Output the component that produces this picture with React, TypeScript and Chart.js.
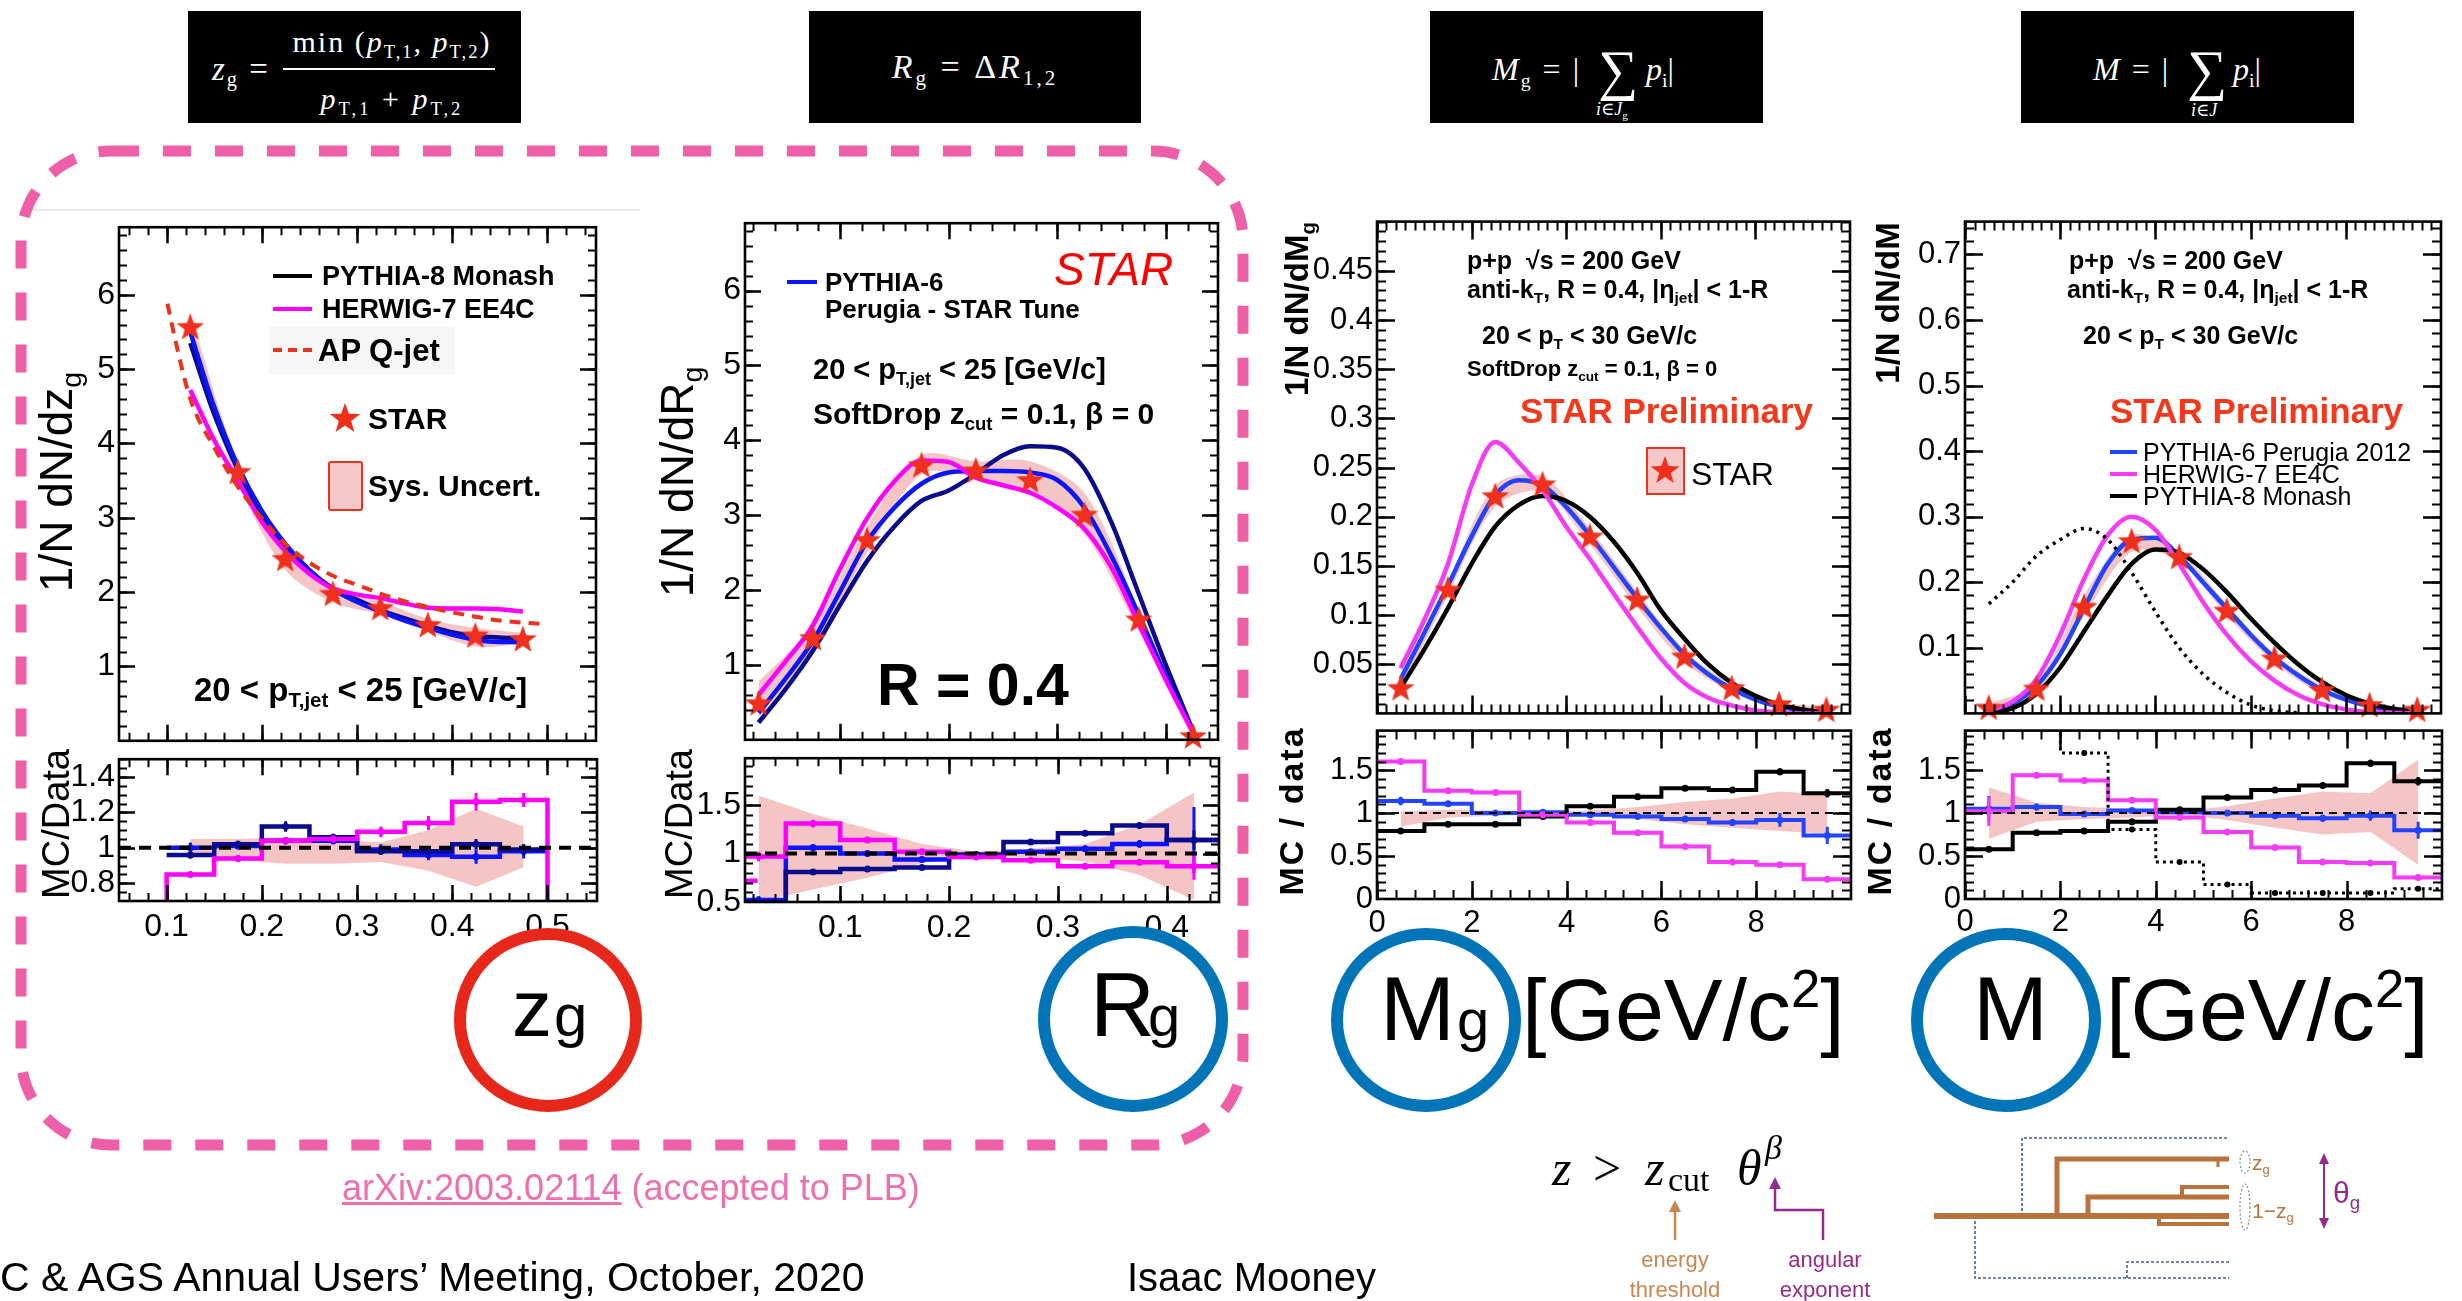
import React, { useEffect, useRef } from "react";
import { Chart, registerables } from "chart.js";

Chart.register(...registerables);

/* ===================== DATA ===================== */

/* ---- Panel 1 : z_g ---- */
const zgXTicks = [0.1, 0.2, 0.3, 0.4, 0.5];
const zgTopYTicks = [1, 2, 3, 4, 5, 6];
const zgRatioYTicks = [0.8, 1, 1.2, 1.4];
const zgCenters = [0.125, 0.175, 0.225, 0.275, 0.325, 0.375, 0.425, 0.475];
const zgEdges = [0.1, 0.15, 0.2, 0.25, 0.3, 0.35, 0.4, 0.45, 0.5];
const zgStar = [5.57, 3.62, 2.45, 1.98, 1.79, 1.56, 1.42, 1.37];
const zgSysHi = [5.75, 3.76, 2.62, 2.1, 1.88, 1.64, 1.52, 1.45];
const zgSysLo = [5.38, 3.5, 2.3, 1.86, 1.7, 1.47, 1.27, 1.3];
const zgCurveX = [0.125, 0.15, 0.175, 0.2, 0.225, 0.25, 0.275, 0.3, 0.325, 0.35, 0.375, 0.4, 0.425, 0.45, 0.475];
const zgPythia8 = [5.35, 4.4, 3.65, 3.05, 2.62, 2.3, 2.05, 1.9, 1.76, 1.65, 1.55, 1.46, 1.41, 1.39, 1.38];
const zgPythia6 = [5.5, 4.5, 3.7, 3.1, 2.65, 2.3, 2.04, 1.87, 1.74, 1.62, 1.52, 1.43, 1.36, 1.33, 1.33];
const zgHerwig = [4.72, 4.05, 3.5, 2.95, 2.55, 2.25, 2.05, 1.97, 1.92, 1.85, 1.79, 1.78, 1.78, 1.77, 1.74];
const zgApX = [0.101, 0.11, 0.125, 0.15, 0.175, 0.2, 0.225, 0.25, 0.275, 0.3, 0.325, 0.35, 0.375, 0.4, 0.425, 0.45, 0.497];
const zgAp = [5.88, 5.35, 4.6, 3.95, 3.42, 3.0, 2.65, 2.4, 2.22, 2.1, 1.98, 1.88, 1.8, 1.73, 1.67, 1.62, 1.57];
const zgRatioHerwig = [0.85, 0.94, 1.04, 1.05, 1.09, 1.14, 1.26, 1.27];
const zgRatioHerwigErr = [0.01, 0.02, 0.02, 0.02, 0.03, 0.04, 0.05, 0.04];
const zgRatioPythia8 = [0.96, 1.02, 1.12, 1.06, 0.98, 0.98, 1.02, 0.99];
const zgRatioPythia8Err = [0.02, 0.02, 0.03, 0.02, 0.02, 0.03, 0.03, 0.03];
const zgRatioPythia6 = [1.0, 1.01, 1.04, 1.04, 0.99, 0.96, 0.95, 0.98];
const zgRatioPythia6Err = [0.03, 0.02, 0.02, 0.02, 0.03, 0.03, 0.04, 0.04];
const zgRatioSysHi = [1.05, 1.05, 1.06, 1.05, 1.03, 1.1, 1.22, 1.12];
const zgRatioSysLo = [0.97, 0.93, 0.91, 0.91, 0.92, 0.87, 0.78, 0.89];

/* ---- Panel 2 : R_g ---- */
const rgXTicks = [0.1, 0.2, 0.3, 0.4];
const rgTopYTicks = [1, 2, 3, 4, 5, 6];
const rgRatioYTicks = [0.5, 1, 1.5];
const rgCenters = [0.025, 0.075, 0.125, 0.175, 0.225, 0.275, 0.325, 0.375, 0.425];
const rgEdges = [0.0125, 0.05, 0.1, 0.15, 0.2, 0.25, 0.3, 0.35, 0.4, 0.45];
const rgStar = [0.49, 1.36, 2.67, 3.67, 3.6, 3.47, 3.01, 1.61, 0.05];
const rgSysHi = [0.78, 1.52, 2.85, 3.8, 3.72, 3.72, 3.3, 1.76, 0.12];
const rgSysLo = [0.3, 1.2, 2.5, 3.55, 3.5, 3.3, 2.75, 1.45, 0.0];
const rgCurveX = [0.025, 0.05, 0.075, 0.1, 0.125, 0.15, 0.175, 0.2, 0.225, 0.25, 0.275, 0.3, 0.325, 0.35, 0.375, 0.4, 0.425];
const rgPythia6 = [0.36, 0.82, 1.32, 1.98, 2.65, 3.1, 3.42, 3.57, 3.59, 3.59, 3.57, 3.47, 3.1, 2.45, 1.67, 0.85, 0.1];
const rgHerwig = [0.6, 1.05, 1.53, 2.28, 2.96, 3.45, 3.73, 3.71, 3.5, 3.4, 3.3, 3.1, 2.82, 2.3, 1.55, 0.8, 0.1];
const rgPythia8 = [0.23, 0.68, 1.19, 1.8, 2.39, 2.85, 3.19, 3.33, 3.55, 3.8, 3.92, 3.9, 3.62, 2.9, 1.95, 1.0, 0.12];
const rgRatioHerwig = [0.97, 1.31, 1.14, 1.02, 0.965, 0.93, 0.87, 0.91, 0.87];
const rgRatioHerwigErr = [0.05, 0.04, 0.03, 0.02, 0.02, 0.02, 0.02, 0.03, 0.14];
const rgRatioPythia6 = [0.52, 1.06, 1.0, 0.94, 0.97, 1.02, 1.05, 1.1, 1.14];
const rgRatioPythia6Err = [0.04, 0.04, 0.03, 0.03, 0.02, 0.02, 0.03, 0.04, 0.34];
const rgRatioPythia8 = [0.5, 0.81, 0.84, 0.855, 0.99, 1.12, 1.21, 1.29, 1.14];
const rgRatioPythia8Err = [0.01, 0.02, 0.02, 0.02, 0.02, 0.02, 0.02, 0.03, 0.1];
const rgRatioHerwigStubX = [0.0125, 0.024];
const rgRatioHerwigStub = [0.72, 0.72];
const rgRatioSysHi = [1.6, 1.41, 1.26, 1.1, 1.02, 1.05, 1.1, 1.3, 1.63];
const rgRatioSysLo = [0.5, 0.63, 0.75, 0.9, 0.98, 0.96, 0.92, 0.78, 0.52];

/* ---- Panels 3 & 4 : masses ---- */
const massXTicks = [0, 2, 4, 6, 8];
const massRatioYTicks = [0, 0.5, 1, 1.5];
const massCenters = [0.5, 1.5, 2.5, 3.5, 4.5, 5.5, 6.5, 7.5, 8.5, 9.5];
const massEdges = [0, 1, 2, 3, 4, 5, 6, 7, 8, 9, 10];
const massCurveX = [0.5, 1, 1.5, 2, 2.5, 3, 3.5, 4, 4.5, 5, 5.5, 6, 6.5, 7, 7.5, 8, 8.5, 9, 9.5];

/* Panel 3 : M_g */
const mgTopYTicks = [0.05, 0.1, 0.15, 0.2, 0.25, 0.3, 0.35, 0.4, 0.45];
const mgStar = [0.026, 0.126, 0.221, 0.233, 0.18, 0.116, 0.058, 0.026, 0.0095, 0.004];
const mgSysHi = [0.03, 0.133, 0.232, 0.241, 0.188, 0.124, 0.064, 0.03, 0.012, 0.006];
const mgSysLo = [0.022, 0.12, 0.21, 0.225, 0.172, 0.108, 0.052, 0.022, 0.007, 0.002];
const mgPythia6 = [0.035, 0.082, 0.13, 0.18, 0.222, 0.237, 0.232, 0.21, 0.181, 0.149, 0.117, 0.087, 0.06, 0.04, 0.025, 0.014, 0.007, 0.003, 0.001];
const mgHerwig = [0.046, 0.095, 0.152, 0.232, 0.276, 0.255, 0.227, 0.19, 0.157, 0.122, 0.088, 0.056, 0.031, 0.016, 0.008, 0.003, 0.001, 0.0, 0.0];
const mgPythia8 = [0.026, 0.065, 0.107, 0.152, 0.19, 0.212, 0.221, 0.216, 0.2, 0.175, 0.143, 0.105, 0.076, 0.05, 0.031, 0.018, 0.009, 0.004, 0.001];
const mgRatioHerwig = [1.6, 1.26, 1.24, 0.98, 0.89, 0.77, 0.61, 0.43, 0.4, 0.23];
const mgRatioHerwigErr = [0.03, 0.02, 0.02, 0.01, 0.01, 0.01, 0.01, 0.01, 0.02, 0.01];
const mgRatioPythia6 = [1.14, 1.11, 1.0, 1.01, 0.98, 0.96, 0.93, 0.89, 0.92, 0.74];
const mgRatioPythia6Err = [0.05, 0.03, 0.02, 0.02, 0.02, 0.02, 0.03, 0.04, 0.08, 0.1];
const mgRatioPythia8 = [0.79, 0.87, 0.87, 0.96, 1.08, 1.19, 1.29, 1.27, 1.48, 1.23];
const mgRatioPythia8Err = [0.02, 0.01, 0.01, 0.01, 0.01, 0.01, 0.02, 0.03, 0.04, 0.05];
const mgRatioSysHi = [1.02, 1.04, 1.03, 1.01, 1.03, 1.07, 1.13, 1.17, 1.25, 1.22];
const mgRatioSysLo = [0.84, 0.95, 0.97, 0.99, 0.97, 0.93, 0.87, 0.83, 0.79, 0.76];

/* Panel 4 : M */
const mTopYTicks = [0.1, 0.2, 0.3, 0.4, 0.5, 0.6, 0.7];
const mStar = [0.009, 0.038, 0.163, 0.263, 0.239, 0.157, 0.084, 0.036, 0.013, 0.006];
const mSysHi = [0.015, 0.045, 0.18, 0.272, 0.246, 0.166, 0.091, 0.042, 0.016, 0.008];
const mSysLo = [0.004, 0.032, 0.148, 0.246, 0.232, 0.149, 0.077, 0.03, 0.01, 0.004];
const mPythia6 = [0.003, 0.015, 0.042, 0.09, 0.16, 0.228, 0.265, 0.268, 0.24, 0.2, 0.16, 0.12, 0.085, 0.058, 0.036, 0.021, 0.011, 0.005, 0.002];
const mHerwig = [0.004, 0.018, 0.052, 0.12, 0.205, 0.272, 0.3, 0.28, 0.228, 0.17, 0.12, 0.08, 0.05, 0.028, 0.014, 0.006, 0.002, 0.001, 0.0];
const mPythia8 = [0.0, 0.008, 0.03, 0.07, 0.125, 0.18, 0.228, 0.25, 0.245, 0.22, 0.185, 0.145, 0.108, 0.075, 0.048, 0.028, 0.015, 0.007, 0.003];
const mDottedX = [0.5, 1, 1.5, 2, 2.5, 3, 3.5, 4, 4.5, 5, 5.5, 6, 6.5, 7];
const mDotted = [0.167, 0.2, 0.24, 0.265, 0.282, 0.265, 0.215, 0.155, 0.1, 0.06, 0.032, 0.013, 0.004, 0.001];
const mRatioHerwig = [1.02, 1.44, 1.38, 1.15, 0.95, 0.78, 0.6, 0.43, 0.42, 0.25];
const mRatioHerwigErr = [0.17, 0.03, 0.02, 0.01, 0.01, 0.01, 0.01, 0.02, 0.02, 0.01];
const mRatioPythia6 = [1.05, 1.07, 0.99, 1.03, 1.01, 1.0, 0.97, 0.94, 0.97, 0.8];
const mRatioPythia6Err = [0.15, 0.04, 0.02, 0.02, 0.02, 0.02, 0.03, 0.04, 0.06, 0.1];
const mRatioPythia8 = [0.58, 0.77, 0.79, 0.9, 1.04, 1.18, 1.27, 1.32, 1.58, 1.37];
const mRatioPythia8Err = [0.02, 0.02, 0.01, 0.01, 0.01, 0.01, 0.02, 0.02, 0.04, 0.05];
const mRatioDottedEdges = [1, 2, 3, 4, 5, 6, 7, 8, 9, 10];
const mRatioDottedCenters = [1.5, 2.5, 3.5, 4.5, 5.5, 6.5, 7.5, 8.5, 9.5];
const mRatioDotted = [3.0, 1.7, 0.81, 0.43, 0.17, 0.07, 0.07, 0.07, 0.12];
const mRatioSysHi = [1.3, 1.12, 1.07, 1.05, 1.02, 1.08, 1.17, 1.25, 1.23, 1.62];
const mRatioSysLo = [0.7, 0.9, 0.93, 0.95, 0.98, 0.92, 0.83, 0.75, 0.78, 0.4];

/* ===================== STYLE ===================== */
const FONT = "'Liberation Sans', Arial, Helvetica, sans-serif";
const NARROW = "'Liberation Sans Narrow', 'Liberation Sans', Arial, sans-serif";
const SERIF = "'Liberation Serif', 'DejaVu Serif', 'Times New Roman', serif";

const COL = {
  navy: "#0b0b8e",
  blue: "#0a14ff",
  blue2: "#2244ff",
  magenta: "#ff00ff",
  magenta2: "#f53cf5",
  red: "#e8341f",
  star: "#f0301c",
  band: "rgba(236,140,140,0.5)",
  pink: "#ee5fa8",
  circleBlue: "#0274b8",
  circleRed: "#e8271b",
  prelim: "#f5381c",
  brown: "#b8733c",
  purple: "#952a8c",
  orange: "#c98650",
};

/* ===================== HELPERS ===================== */
type DS = any;

let STAR_CANVAS: HTMLCanvasElement | null = null;
function starImg() {
  if (STAR_CANVAS) return STAR_CANVAS;
  const size = 30;
  const c = document.createElement("canvas");
  c.width = size;
  c.height = size;
  const g = c.getContext("2d")!;
  const R = 14.5, r = 6.0, cx = size / 2, cy = size / 2 + 1;
  g.beginPath();
  for (let i = 0; i < 10; i++) {
    const a = -Math.PI / 2 + (i * Math.PI) / 5;
    const rad = i % 2 === 0 ? R : r;
    g.lineTo(cx + rad * Math.cos(a), cy + rad * Math.sin(a));
  }
  g.closePath();
  g.fillStyle = COL.star;
  g.fill();
  STAR_CANVAS = c;
  return c;
}

const pts = (xs: number[], ys: number[]) => xs.map((x, i) => ({ x, y: ys[i] }));
const histPts = (edges: number[], vals: number[]) => [
  ...vals.map((v, i) => ({ x: edges[i], y: v })),
  { x: edges[vals.length], y: vals[vals.length - 1] },
];
const errPts = (xs: number[], ys: number[], es: number[]) =>
  xs.flatMap((x, i) => [
    { x, y: ys[i] - es[i] },
    { x, y: ys[i] + es[i] },
    { x, y: null },
  ]);

function curveDS(xs: number[], ys: number[], color: string, width = 4.5, dash: number[] = []): DS {
  return { data: pts(xs, ys), showLine: true, borderColor: color, borderWidth: width, borderDash: dash, pointRadius: 0, fill: false, cubicInterpolationMode: "monotone", order: 4 };
}
function starDS(xs: number[], ys: number[]): DS {
  return { data: pts(xs, ys), showLine: false, pointStyle: starImg(), pointRadius: 14, clip: false, order: 0 };
}
function bandDS(xs: number[], hi: number[], lo: number[], tension: number): DS[] {
  const base = { showLine: true, borderWidth: 0, borderColor: "rgba(0,0,0,0)", pointRadius: 0, tension };
  return [
    { ...base, data: pts(xs, hi), fill: "+1", backgroundColor: COL.band, order: 10 },
    { ...base, data: pts(xs, lo), fill: false, order: 11 },
  ];
}
function histDS(edges: number[], vals: number[], color: string, width: number, drop = false, dash: number[] = []): DS {
  let d: any[] = histPts(edges, vals);
  if (drop) d = [{ x: edges[0], y: 0 }, ...d, { x: edges[edges.length - 1], y: 0 }];
  return { data: d, showLine: true, stepped: true, borderColor: color, borderWidth: width, borderDash: dash, pointRadius: 0, fill: false, order: 3 };
}
function errDS(xs: number[], ys: number[], es: number[], color: string, width = 3): DS {
  return { data: errPts(xs, ys, es), showLine: true, spanGaps: false, borderColor: color, borderWidth: width, pointRadius: 0, fill: false, order: 2 };
}
function markDS(xs: number[], ys: number[], color: string, r = 3.5): DS {
  return { data: pts(xs, ys), showLine: false, pointRadius: r, pointStyle: "circle", backgroundColor: color, borderColor: color, borderWidth: 0, order: 2 };
}
function unityDS(min: number, max: number, width: number, dash: number[]): DS {
  return { data: [{ x: min, y: 1 }, { x: max, y: 1 }], showLine: true, borderColor: "#000", borderWidth: width, borderDash: dash, pointRadius: 0, fill: false, order: 1 };
}
function segDS(xs: number[], ys: number[], color: string, width: number): DS {
  return { data: pts(xs, ys), showLine: true, borderColor: color, borderWidth: width, pointRadius: 0, fill: false, order: 3 };
}

/* frame + inner ROOT-style ticks */
const frameTicks = {
  id: "frameTicks",
  afterDatasetsDraw(chart: any, _a: any, o: any) {
    const { ctx, chartArea: a } = chart;
    const xs = chart.scales.x, ys = chart.scales.y;
    const minor = (min: number, max: number, step: number) => {
      const out: number[] = [];
      for (let k = Math.ceil(min / step - 1e-9); k * step <= max + 1e-9; k++) out.push(k * step);
      return out;
    };
    ctx.save();
    ctx.strokeStyle = "#000";
    ctx.lineWidth = 2;
    const drawX = (vals: number[], len: number) => {
      ctx.beginPath();
      for (const v of vals) {
        const p = Math.round(xs.getPixelForValue(v)) + 0.5;
        if (p < a.left || p > a.right) continue;
        ctx.moveTo(p, a.bottom); ctx.lineTo(p, a.bottom - len);
        ctx.moveTo(p, a.top); ctx.lineTo(p, a.top + len);
      }
      ctx.stroke();
    };
    const drawY = (vals: number[], len: number) => {
      ctx.beginPath();
      for (const v of vals) {
        const p = Math.round(ys.getPixelForValue(v)) + 0.5;
        if (p < a.top || p > a.bottom) continue;
        ctx.moveTo(a.left, p); ctx.lineTo(a.left + len, p);
        ctx.moveTo(a.right, p); ctx.lineTo(a.right - len, p);
      }
      ctx.stroke();
    };
    drawX(minor(xs.min, xs.max, o.xMinor), o.minorLen);
    drawY(minor(ys.min, ys.max, o.yMinor), o.minorLen);
    ctx.lineWidth = 2.5;
    drawX(o.xMajor, o.majorLen);
    drawY(o.yMajor, o.majorLen);
    ctx.lineWidth = 2.6;
    ctx.strokeRect(a.left, a.top, a.right - a.left, a.bottom - a.top);
    ctx.restore();
  },
};

type PadSpec = {
  frame: [number, number, number, number];
  xr: [number, number];
  yr: [number, number];
  xMajor: number[];
  xMinor: number;
  yMajor: number[];
  yMinor: number;
  showX: boolean;
  size: number;
  family: string;
  xPad: number;
  majorLen: number;
  minorLen: number;
  datasets: () => DS[];
};

function Pad({ spec }: { spec: PadSpec }) {
  const ref = useRef<HTMLCanvasElement>(null);
  const [x0, y0, x1, y1] = spec.frame;
  const L = 90, R = 14, T = 14, B = spec.showX ? 56 : 14;
  const W = x1 - x0 + L + R, H = y1 - y0 + T + B;
  useEffect(() => {
    const font = { family: spec.family, size: spec.size };
    const chart = new Chart(ref.current as HTMLCanvasElement, {
      type: "scatter",
      data: { datasets: spec.datasets() },
      options: {
        animation: false,
        responsive: false,
        maintainAspectRatio: false,
        devicePixelRatio: 1,
        events: [],
        layout: { padding: { left: 0, right: R, top: T, bottom: 0 } },
        plugins: {
          legend: { display: false },
          tooltip: { enabled: false },
          frameTicks: { xMajor: spec.xMajor, xMinor: spec.xMinor, yMajor: spec.yMajor, yMinor: spec.yMinor, majorLen: spec.majorLen, minorLen: spec.minorLen },
        } as any,
        scales: {
          x: {
            type: "linear", position: "bottom", min: spec.xr[0], max: spec.xr[1], bounds: "data",
            grid: { display: false, drawTicks: false }, border: { display: false },
            ticks: { display: spec.showX, autoSkip: false, maxRotation: 0, minRotation: 0, padding: spec.xPad, color: "#000", font, callback: (v: any) => String(v) },
            afterBuildTicks: (s: any) => { s.ticks = spec.xMajor.map((v) => ({ value: v })); },
            afterFit: (s: any) => { s.height = B; },
          },
          y: {
            type: "linear", position: "left", min: spec.yr[0], max: spec.yr[1], bounds: "data",
            grid: { display: false, drawTicks: false }, border: { display: false },
            ticks: { autoSkip: false, padding: 4, color: "#000", font, callback: (v: any) => String(v) },
            afterBuildTicks: (s: any) => { s.ticks = spec.yMajor.map((v) => ({ value: v })); },
            afterFit: (s: any) => { s.width = L; },
          },
        } as any,
      },
      plugins: [frameTicks],
    } as any);
    return () => chart.destroy();
  }, []);
  return <canvas ref={ref} width={W} height={H} style={{ position: "absolute", left: x0 - L, top: y0 - T, width: W, height: H }} />;
}

/* ===================== PADS ===================== */
const P1T: PadSpec = {
  frame: [119, 218, 597, 750], xr: [0.05, 0.552], yr: [0, 6.91],
  xMajor: zgXTicks, xMinor: 0.02, yMajor: zgTopYTicks, yMinor: 0.2,
  showX: false, size: 32, family: FONT, xPad: 7, majorLen: 16, minorLen: 8,
  datasets: () => [
    starDS(zgCenters, zgStar),
    curveDS(zgApX, zgAp, COL.red, 4, [11, 8]),
    curveDS(zgCurveX, zgHerwig, COL.magenta),
    curveDS(zgCurveX, zgPythia6, COL.blue),
    curveDS(zgCurveX, zgPythia8, COL.navy),
    ...bandDS(zgCenters, zgSysHi, zgSysLo, 0.3),
  ],
};
const P1R: PadSpec = {
  frame: [119, 750, 597, 901], xr: [0.05, 0.552], yr: [0.7, 1.5],
  xMajor: zgXTicks, xMinor: 0.02, yMajor: zgRatioYTicks, yMinor: 0.05,
  showX: true, size: 32, family: FONT, xPad: 7, majorLen: 16, minorLen: 8,
  datasets: () => [
    unityDS(0.05, 0.552, 4, [12, 8]),
    errDS(zgCenters, zgRatioHerwig, zgRatioHerwigErr, COL.magenta),
    markDS(zgCenters, zgRatioHerwig, COL.magenta),
    histDS(zgEdges, zgRatioHerwig, COL.magenta, 4.5, true),
    errDS(zgCenters, zgRatioPythia8, zgRatioPythia8Err, COL.navy),
    markDS(zgCenters, zgRatioPythia8, COL.navy),
    histDS(zgEdges, zgRatioPythia8, COL.navy, 4.5),
    errDS(zgCenters, zgRatioPythia6, zgRatioPythia6Err, COL.blue),
    markDS(zgCenters, zgRatioPythia6, COL.blue),
    histDS(zgEdges, zgRatioPythia6, COL.blue, 4.5),
    ...bandDS(zgCenters, zgRatioSysHi, zgRatioSysLo, 0),
  ],
};
const P2T: PadSpec = {
  frame: [745, 214, 1219, 749], xr: [0.0125, 0.448], yr: [0, 6.9],
  xMajor: rgXTicks, xMinor: 0.02, yMajor: rgTopYTicks, yMinor: 0.2,
  showX: false, size: 32, family: FONT, xPad: 7, majorLen: 16, minorLen: 8,
  datasets: () => [
    starDS(rgCenters, rgStar),
    curveDS(rgCurveX, rgHerwig, COL.magenta),
    curveDS(rgCurveX, rgPythia6, COL.blue),
    curveDS(rgCurveX, rgPythia8, COL.navy),
    ...bandDS(rgCenters, rgSysHi, rgSysLo, 0.3),
  ],
};
const P2R: PadSpec = {
  frame: [745, 749, 1219, 902], xr: [0.0125, 0.448], yr: [0.5, 1.985],
  xMajor: rgXTicks, xMinor: 0.02, yMajor: rgRatioYTicks, yMinor: 0.1,
  showX: true, size: 32, family: FONT, xPad: 7, majorLen: 16, minorLen: 8,
  datasets: () => [
    unityDS(0.0125, 0.448, 4, [12, 8]),
    errDS(rgCenters, rgRatioHerwig, rgRatioHerwigErr, COL.magenta),
    markDS(rgCenters, rgRatioHerwig, COL.magenta),
    histDS(rgEdges, rgRatioHerwig, COL.magenta, 4.5),
    segDS(rgRatioHerwigStubX, rgRatioHerwigStub, COL.magenta, 4.5),
    errDS(rgCenters, rgRatioPythia8, rgRatioPythia8Err, COL.navy),
    markDS(rgCenters, rgRatioPythia8, COL.navy),
    histDS(rgEdges, rgRatioPythia8, COL.navy, 4.5),
    errDS(rgCenters, rgRatioPythia6, rgRatioPythia6Err, COL.blue),
    markDS(rgCenters, rgRatioPythia6, COL.blue),
    histDS(rgEdges, rgRatioPythia6, COL.blue, 4.5),
    ...bandDS(rgCenters, rgRatioSysHi, rgRatioSysLo, 0),
  ],
};
const P3T: PadSpec = {
  frame: [1377, 213, 1851, 722], xr: [0, 10], yr: [0, 0.5],
  xMajor: massXTicks, xMinor: 0.2, yMajor: mgTopYTicks, yMinor: 0.01,
  showX: false, size: 31, family: NARROW, xPad: 6, majorLen: 18, minorLen: 9,
  datasets: () => [
    starDS(massCenters, mgStar),
    curveDS(massCurveX, mgHerwig, COL.magenta2),
    curveDS(massCurveX, mgPythia8, "#000"),
    curveDS(massCurveX, mgPythia6, COL.blue2),
    ...bandDS(massCenters, mgSysHi, mgSysLo, 0.3),
  ],
};
const P3R: PadSpec = {
  frame: [1377, 722, 1851, 899], xr: [0, 10], yr: [0, 1.96],
  xMajor: massXTicks, xMinor: 0.4, yMajor: massRatioYTicks, yMinor: 0.1,
  showX: true, size: 31, family: NARROW, xPad: 6, majorLen: 18, minorLen: 9,
  datasets: () => [
    unityDS(0, 10, 2, [8, 6]),
    errDS(massCenters, mgRatioHerwig, mgRatioHerwigErr, COL.magenta2),
    markDS(massCenters, mgRatioHerwig, COL.magenta2),
    histDS(massEdges, mgRatioHerwig, COL.magenta2, 4),
    errDS(massCenters, mgRatioPythia8, mgRatioPythia8Err, "#000"),
    markDS(massCenters, mgRatioPythia8, "#000"),
    histDS(massEdges, mgRatioPythia8, "#000", 4),
    errDS(massCenters, mgRatioPythia6, mgRatioPythia6Err, COL.blue2),
    markDS(massCenters, mgRatioPythia6, COL.blue2),
    histDS(massEdges, mgRatioPythia6, COL.blue2, 4),
    ...bandDS(massCenters, mgRatioSysHi, mgRatioSysLo, 0),
  ],
};
const P4T: PadSpec = {
  frame: [1965, 213, 2442, 722], xr: [0, 10], yr: [0, 0.75],
  xMajor: massXTicks, xMinor: 0.2, yMajor: mTopYTicks, yMinor: 0.02,
  showX: false, size: 31, family: NARROW, xPad: 6, majorLen: 18, minorLen: 9,
  datasets: () => [
    starDS(massCenters, mStar),
    curveDS(mDottedX, mDotted, "#000", 3.5, [3, 5]),
    curveDS(massCurveX, mHerwig, COL.magenta2),
    curveDS(massCurveX, mPythia8, "#000"),
    curveDS(massCurveX, mPythia6, COL.blue2),
    ...bandDS(massCenters, mSysHi, mSysLo, 0.3),
  ],
};
const P4R: PadSpec = {
  frame: [1965, 722, 2442, 899], xr: [0, 10], yr: [0, 1.96],
  xMajor: massXTicks, xMinor: 0.4, yMajor: massRatioYTicks, yMinor: 0.1,
  showX: true, size: 31, family: NARROW, xPad: 5, majorLen: 18, minorLen: 9,
  datasets: () => [
    unityDS(0, 10, 2, [8, 6]),
    markDS(mRatioDottedCenters, mRatioDotted, "#000", 3),
    histDS(mRatioDottedEdges, mRatioDotted, "#000", 3, false, [3, 4]),
    errDS(massCenters, mRatioHerwig, mRatioHerwigErr, COL.magenta2),
    markDS(massCenters, mRatioHerwig, COL.magenta2),
    histDS(massEdges, mRatioHerwig, COL.magenta2, 4),
    errDS(massCenters, mRatioPythia8, mRatioPythia8Err, "#000"),
    markDS(massCenters, mRatioPythia8, "#000"),
    histDS(massEdges, mRatioPythia8, "#000", 4),
    errDS(massCenters, mRatioPythia6, mRatioPythia6Err, COL.blue2),
    markDS(massCenters, mRatioPythia6, COL.blue2),
    histDS(massEdges, mRatioPythia6, COL.blue2, 4),
    ...bandDS(massCenters, mRatioSysHi, mRatioSysLo, 0),
  ],
};
const PADS = [P1T, P1R, P2T, P2R, P3T, P3R, P4T, P4R];

/* ===================== TEXT HELPERS ===================== */
function Sub({ children }: any) {
  return <span style={{ fontSize: "0.62em", position: "relative", top: "0.32em", lineHeight: 0 }}>{children}</span>;
}
function Sup({ children }: any) {
  return <span style={{ fontSize: "0.6em", position: "relative", top: "-0.62em", lineHeight: 0 }}>{children}</span>;
}
function Txt({ x, cy, size, children, bold, italic, color = "#000", family = FONT, center, style }: any) {
  return (
    <div style={{ position: "absolute", left: x, top: cy - size * 0.49, fontSize: size, lineHeight: `${size}px`, fontFamily: family, fontWeight: bold ? 700 : 400, fontStyle: italic ? "italic" : "normal", color, whiteSpace: "nowrap", transform: center ? "translateX(-50%)" : undefined, ...style }}>
      {children}
    </div>
  );
}
function Base({ x, base, size, children, color = "#000", family = FONT, italic }: any) {
  return <div style={{ position: "absolute", left: x, top: base - 0.845 * size, fontSize: size, lineHeight: `${size}px`, fontFamily: family, fontStyle: italic ? "italic" : "normal", color, whiteSpace: "nowrap" }}>{children}</div>;
}
function RotTxt({ cx, cy, size, children, bold, spacing = 0 }: any) {
  return (
    <div style={{ position: "absolute", left: cx, top: cy, fontSize: size, lineHeight: `${size}px`, fontFamily: FONT, fontWeight: bold ? 700 : 400, letterSpacing: spacing, whiteSpace: "nowrap", transform: "translate(-50%,-50%) rotate(-90deg)" }}>
      {children}
    </div>
  );
}
function starPoints(cx: number, cy: number, R: number) {
  const r = R * 0.41;
  const p: string[] = [];
  for (let i = 0; i < 10; i++) {
    const a = -Math.PI / 2 + (i * Math.PI) / 5;
    const rad = i % 2 === 0 ? R : r;
    p.push(`${(cx + rad * Math.cos(a)).toFixed(1)},${(cy + rad * Math.sin(a)).toFixed(1)}`);
  }
  return p.join(" ");
}

/* ===================== APP ===================== */
export default function App() {
  return (
    <div style={{ position: "fixed", left: 0, top: 0, width: 2462, height: 1301, background: "#fff", overflow: "hidden", fontFamily: FONT }}>
      {/* formula boxes */}
      <div style={{ position: "absolute", left: 188, top: 11, width: 333, height: 112, background: "#000" }}>
        <Txt x={24} cy={58} size={33} family={SERIF} color="#fff" style={{ letterSpacing: 2 }}><i>z</i><Sub>g</Sub> =</Txt>
        <div style={{ position: "absolute", left: 95, top: 57, width: 212, height: 2, background: "#fff" }} />
        <Txt x={204} cy={31} size={30} family={SERIF} color="#fff" center style={{ letterSpacing: 2 }}>min (<i>p</i><Sub>T,1</Sub>, <i>p</i><Sub>T,2</Sub>)</Txt>
        <Txt x={204} cy={88} size={30} family={SERIF} color="#fff" center style={{ letterSpacing: 3 }}><i>p</i><Sub>T,1</Sub> + <i>p</i><Sub>T,2</Sub></Txt>
      </div>
      <div style={{ position: "absolute", left: 809, top: 11, width: 332, height: 112, background: "#000" }}>
        <Txt x={166} cy={56} size={34} family={SERIF} color="#fff" center style={{ letterSpacing: 3 }}><i>R</i><Sub>g</Sub> = Δ<i>R</i><Sub>1,2</Sub></Txt>
      </div>
      <div style={{ position: "absolute", left: 1430, top: 11, width: 333, height: 112, background: "#000" }}>
        <Txt x={62} cy={58} size={32} family={SERIF} color="#fff" style={{ letterSpacing: 2 }}><i>M</i><Sub>g</Sub> = |</Txt>
        <Txt x={168} cy={58} size={56} family={SERIF} color="#fff">∑</Txt>
        <Txt x={216} cy={58} size={32} family={SERIF} color="#fff"><i>p</i><Sub>i</Sub>|</Txt>
        <Txt x={166} cy={98} size={18} family={SERIF} color="#fff"><i>i</i>∈<i>J</i><Sub>g</Sub></Txt>
      </div>
      <div style={{ position: "absolute", left: 2021, top: 11, width: 333, height: 112, background: "#000" }}>
        <Txt x={72} cy={58} size={32} family={SERIF} color="#fff" style={{ letterSpacing: 2 }}><i>M</i> = |</Txt>
        <Txt x={166} cy={58} size={56} family={SERIF} color="#fff">∑</Txt>
        <Txt x={212} cy={58} size={32} family={SERIF} color="#fff"><i>p</i><Sub>i</Sub>|</Txt>
        <Txt x={170} cy={99} size={18} family={SERIF} color="#fff"><i>i</i>∈<i>J</i></Txt>
      </div>

      {/* faint legend background in panel 1 */}
      <div style={{ position: "absolute", left: 269, top: 326, width: 186, height: 48, background: "#f6f6f6" }} />

      {PADS.map((s, i) => (
        <Pad key={i} spec={s} />
      ))}

      {/* vector decorations */}
      <svg width={2462} height={1301} style={{ position: "absolute", left: 0, top: 0, pointerEvents: "none" }}>
        <line x1={24} y1={210} x2={640} y2={210} stroke="#ececec" strokeWidth={2} />
        <rect x={21} y={151} width={1222} height={994} rx={90} fill="none" stroke={COL.pink} strokeWidth={11} strokeDasharray="28 24" />
        <ellipse cx={548} cy={1020} rx={88} ry={86} fill="none" stroke={COL.circleRed} strokeWidth={12} />
        <ellipse cx={1133} cy={1019} rx={89} ry={87} fill="none" stroke={COL.circleBlue} strokeWidth={12} />
        <ellipse cx={1426} cy={1020} rx={89} ry={86} fill="none" stroke={COL.circleBlue} strokeWidth={12} />
        <ellipse cx={2006} cy={1020} rx={89} ry={86} fill="none" stroke={COL.circleBlue} strokeWidth={12} />

        {/* legend line samples */}
        <line x1={273} y1={276} x2={312} y2={276} stroke="#000" strokeWidth={4} />
        <line x1={273} y1={309} x2={312} y2={309} stroke={COL.magenta} strokeWidth={4} />
        <line x1={273} y1={350} x2={312} y2={350} stroke={COL.red} strokeWidth={4} strokeDasharray="9 6" />
        <polygon points={starPoints(345, 419, 16)} fill={COL.star} />
        <rect x={329} y={462} width={33} height={48} rx={2} fill="#f6c8c8" stroke={COL.red} strokeWidth={2} />
        <line x1={787} y1={282} x2={817} y2={282} stroke={COL.blue} strokeWidth={4} />
        <rect x={1647} y={448} width={37} height={46} fill="#f6c8c8" stroke={COL.red} strokeWidth={2} />
        <polygon points={starPoints(1665, 471, 15)} fill={COL.star} />
        <line x1={2110} y1={452} x2={2137} y2={452} stroke={COL.blue2} strokeWidth={4} />
        <line x1={2110} y1={474} x2={2137} y2={474} stroke={COL.magenta2} strokeWidth={4} />
        <line x1={2110} y1={496} x2={2137} y2={496} stroke="#000" strokeWidth={4} />

        {/* soft drop arrows */}
        <line x1={1675} y1={1240} x2={1675} y2={1210} stroke={COL.orange} strokeWidth={2.5} />
        <polygon points="1675,1200 1669,1212 1681,1212" fill={COL.orange} />
        <polyline points="1823,1240 1823,1210 1775,1210 1775,1188" stroke={COL.purple} strokeWidth={2.5} fill="none" />
        <polygon points="1775,1177 1769,1189 1781,1189" fill={COL.purple} />

        {/* clustering tree */}
        <g stroke="#3f6289" strokeWidth={1.6} strokeDasharray="3 2" fill="none">
          <polyline points="2022,1216 2022,1138 2229,1138" />
          <polyline points="1975,1216 1975,1278 2229,1278" />
          <polyline points="2127,1278 2127,1262 2229,1262" />
        </g>
        <g stroke={COL.brown} strokeWidth={5} fill="none">
          <line x1={1934} y1={1216} x2={2229} y2={1216} strokeWidth={6} />
          <polyline points="2057,1216 2057,1159 2229,1159" />
          <polyline points="2088,1216 2088,1197 2229,1197" />
          <polyline points="2182,1197 2182,1187 2229,1187" strokeWidth={4} />
          <polyline points="2159,1216 2159,1224 2229,1224" strokeWidth={4} />
          <line x1={2218} y1={1159} x2={2218} y2={1167} strokeWidth={3} />
        </g>
        <g stroke="#888" strokeWidth={1.2} strokeDasharray="2 2" fill="none">
          <ellipse cx={2245} cy={1162} rx={5} ry={11} />
          <ellipse cx={2245} cy={1207} rx={5} ry={23} />
        </g>
        <line x1={2324} y1={1161} x2={2324} y2={1221} stroke={COL.purple} strokeWidth={2} />
        <polygon points="2324,1153 2319,1164 2329,1164" fill={COL.purple} />
        <polygon points="2324,1229 2319,1218 2329,1218" fill={COL.purple} />
      </svg>

      {/* ---- Panel 1 texts ---- */}
      <RotTxt cx={56} cy={482} size={46}>1/N dN/dz<Sub>g</Sub></RotTxt>
      <RotTxt cx={56} cy={824} size={38}>MC/Data</RotTxt>
      <Txt x={322} cy={276} size={27} bold>PYTHIA-8 Monash</Txt>
      <Txt x={322} cy={309} size={27} bold>HERWIG-7 EE4C</Txt>
      <Txt x={318} cy={350} size={31} bold>AP Q-jet</Txt>
      <Txt x={368} cy={419} size={30} bold>STAR</Txt>
      <Txt x={368} cy={486} size={30} bold>Sys. Uncert.</Txt>
      <Txt x={194} cy={689} size={33} bold>20 &lt; p<Sub>T,jet</Sub> &lt; 25 [GeV/c]</Txt>

      {/* ---- Panel 2 texts ---- */}
      <RotTxt cx={677} cy={482} size={46}>1/N dN/dR<Sub>g</Sub></RotTxt>
      <RotTxt cx={679} cy={824} size={38}>MC/Data</RotTxt>
      <Txt x={825} cy={282} size={26} bold>PYTHIA-6</Txt>
      <Txt x={825} cy={309} size={26} bold>Perugia - STAR Tune</Txt>
      <Txt x={1054} cy={269} size={46} italic color="#ff0000">STAR</Txt>
      <Txt x={813} cy={369} size={29} bold>20 &lt; p<Sub>T,jet</Sub> &lt; 25 [GeV/c]</Txt>
      <Txt x={813} cy={414} size={30} bold>SoftDrop z<Sub>cut</Sub> = 0.1, β = 0</Txt>
      <Txt x={877} cy={685} size={59} bold>R = 0.4</Txt>

      {/* ---- Panel 3 texts ---- */}
      <RotTxt cx={1296} cy={309} size={33} bold>1/N dN/dM<Sub>g</Sub></RotTxt>
      <RotTxt cx={1291} cy={811} size={34} bold spacing={2}>MC / data</RotTxt>
      <Txt x={1467} cy={260} size={25} bold>p+p&nbsp; √s = 200 GeV</Txt>
      <Txt x={1467} cy={289} size={25} bold>anti-k<Sub>T</Sub>, R = 0.4, |η<Sub>jet</Sub>| &lt; 1-R</Txt>
      <Txt x={1482} cy={335} size={25} bold>20 &lt; p<Sub>T</Sub> &lt; 30 GeV/c</Txt>
      <Txt x={1467} cy={369} size={22} bold>SoftDrop z<Sub>cut</Sub> = 0.1, β = 0</Txt>
      <Txt x={1520} cy={410} size={35} bold color={COL.prelim}>STAR Preliminary</Txt>
      <Txt x={1691} cy={474} size={32}>STAR</Txt>

      {/* ---- Panel 4 texts ---- */}
      <RotTxt cx={1887} cy={303} size={33} bold>1/N dN/dM</RotTxt>
      <RotTxt cx={1879} cy={811} size={34} bold spacing={2}>MC / data</RotTxt>
      <Txt x={2069} cy={260} size={25} bold>p+p&nbsp; √s = 200 GeV</Txt>
      <Txt x={2067} cy={289} size={25} bold>anti-k<Sub>T</Sub>, R = 0.4, |η<Sub>jet</Sub>| &lt; 1-R</Txt>
      <Txt x={2083} cy={335} size={25} bold>20 &lt; p<Sub>T</Sub> &lt; 30 GeV/c</Txt>
      <Txt x={2110} cy={410} size={35} bold color={COL.prelim}>STAR Preliminary</Txt>
      <Txt x={2143} cy={452} size={25}>PYTHIA-6 Perugia 2012</Txt>
      <Txt x={2143} cy={474} size={25}>HERWIG-7 EE4C</Txt>
      <Txt x={2143} cy={496} size={25}>PYTHIA-8 Monash</Txt>

      {/* ---- big observable labels ---- */}
      <Base x={512} base={1037} size={80}>z</Base>
      <Base x={554} base={1037} size={60}>g</Base>
      <Base x={1090} base={1036} size={90}>R</Base>
      <Base x={1148} base={1036} size={58}>g</Base>
      <Base x={1380} base={1040} size={90}>M</Base>
      <Base x={1457} base={1040} size={58}>g</Base>
      <Base x={1522} base={1040} size={88}>[GeV/c<Sup>2</Sup>]</Base>
      <Base x={1973} base={1040} size={90}>M</Base>
      <Base x={2106} base={1040} size={88}>[GeV/c<Sup>2</Sup>]</Base>

      {/* ---- footer ---- */}
      <Txt x={342} cy={1188} size={36} color="#ef6fae"><span style={{ textDecoration: "underline" }}>arXiv:2003.02114</span> (accepted to PLB)</Txt>
      <Txt x={0} cy={1277} size={41}>C &amp; AGS Annual Users’ Meeting, October, 2020</Txt>
      <Txt x={1127} cy={1277} size={40}>Isaac Mooney</Txt>

      {/* soft drop condition */}
      <Base x={1552} base={1185} size={50} family={SERIF} italic>z</Base>
      <Base x={1593} base={1185} size={50} family={SERIF}>&gt;</Base>
      <Base x={1645} base={1185} size={50} family={SERIF} italic>z</Base>
      <Base x={1668} base={1192} size={34} family={SERIF}>cut</Base>
      <Base x={1737} base={1185} size={50} family={SERIF} italic>θ</Base>
      <Base x={1765} base={1160} size={34} family={SERIF} italic>β</Base>
      <Txt x={1675} cy={1260} size={22} color={COL.orange} center>energy</Txt>
      <Txt x={1675} cy={1290} size={22} color={COL.orange} center>threshold</Txt>
      <Txt x={1825} cy={1260} size={22} color={COL.purple} center>angular</Txt>
      <Txt x={1825} cy={1290} size={22} color={COL.purple} center>exponent</Txt>
      <Txt x={2252} cy={1162} size={21} color={COL.brown}>z<Sub>g</Sub></Txt>
      <Txt x={2252} cy={1210} size={21} color={COL.brown}>1−z<Sub>g</Sub></Txt>
      <Txt x={2333} cy={1193} size={30} color={COL.purple}>θ<Sub>g</Sub></Txt>
    </div>
  );
}
